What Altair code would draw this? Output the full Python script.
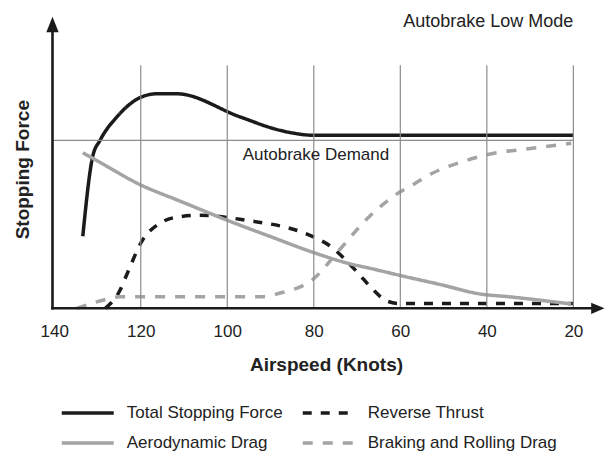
import altair as alt
import pandas as pd

# ---------------- data ----------------
series_names = ["Total Stopping Force", "Aerodynamic Drag", "Reverse Thrust", "Braking and Rolling Drag"]
series_colors = ["#1b1b1b", "#a4a4a4", "#1b1b1b", "#a4a4a4"]
series_dash = [[1, 0], [1, 0], [9, 9], [10, 10]]

total_knots = [133.4, 131.1, 129.4, 125.4, 120.0, 116.3, 111.7, 97.1, 88.7, 84.5, 80.0, 20.0]
total_force = [72, 152, 168, 192, 211, 214.5, 214.5, 191.5, 179, 175, 173, 173]

reverse_knots = [128.2, 124.8, 123.1, 119.8, 115.6, 111.0, 106.4, 99.4, 97.1, 80.2, 76.0, 73.0, 69.7, 66.6, 63.1, 60.2, 20.0]
reverse_force = [0, 18, 35, 66.6, 85, 91.6, 93, 90.5, 89, 71.6, 61.6, 50, 35, 20, 7.3, 4.8, 4.8]

aero_knots = [133.4, 127.0, 121.7, 110.0, 99.4, 90.0, 80.2, 72.6, 66.0, 60.2, 50.3, 41.5, 35.0, 29.5, 20.5]
aero_force = [155.6, 140, 127, 105.6, 87, 71.7, 56, 45.6, 39, 33, 23.3, 14.3, 11.6, 9, 4.3]

braking_knots = [134.8, 127.9, 124.8, 91.8, 88.0, 80.2, 74.1, 67.2, 60.2, 57.2, 52.6, 44.9, 40.3, 29.5, 20.5]
braking_force = [0, 9, 11.6, 11.6, 15, 29, 58.3, 91.6, 116, 123.3, 135, 147.6, 153.3, 160, 165]

tick_values = [140, 120, 100, 80, 60, 40, 20]
grid_knots = [120, 100, 80, 60, 40, 20]
grid_top = 243
demand_level = 168
x_min, x_max = 12.8, 140.4
y_max = 291.6

top_note = "Autobrake Low Mode"
demand_note = "Autobrake Demand"

# ---------------- tables ----------------
rows = []
for name, ks, fs in [
    ("Total Stopping Force", total_knots, total_force),
    ("Reverse Thrust", reverse_knots, reverse_force),
    ("Aerodynamic Drag", aero_knots, aero_force),
    ("Braking and Rolling Drag", braking_knots, braking_force),
]:
    for k, f in zip(ks, fs):
        rows.append({"series": name, "knots": k, "force": f})
df = pd.DataFrame(rows)

FONT = "Liberation Sans"
INK = "#1b1b1b"
TXT = "#222222"
GRID = "#8c8c8c"

xs = alt.Scale(domain=[x_min, x_max], reverse=True, nice=False, zero=False)
ys = alt.Scale(domain=[0, y_max], nice=False, zero=False)

AX = alt.Axis(
    values=tick_values, ticks=False, tickSize=0, domain=False, grid=False,
    labelFont=FONT, labelFontSize=17, labelColor=TXT, labelPadding=15.5,
    labelFlush=False, labelOverlap=False,
    title="Airspeed (Knots)", titleFont=FONT, titleFontSize=19, titleFontWeight="bold",
    titleColor=TXT, titleX=273.5, titleY=61.7, titleAlign="center",
    titleBaseline="alphabetic")
AY = alt.Axis(
    labels=False, ticks=False, domain=False, grid=False,
    title="Stopping Force", titleFont=FONT, titleFontSize=19, titleFontWeight="bold",
    titleColor=TXT, titleAngle=270, titleX=-30, titleY=152.5,
    titleAlign="center", titleBaseline="middle")


def X(field):
    return alt.X(field, type="quantitative", scale=xs, axis=AX)


def Y(field):
    return alt.Y(field, type="quantitative", scale=ys, axis=AY)


legend = alt.Legend(
    title=None, orient="none", legendX=7.25, legendY=382.3, columns=2,
    symbolType="stroke", symbolSize=2704, symbolStrokeWidth=3.5,
    labelFont=FONT, labelFontSize=17, labelColor=TXT, labelOffset=11,
    labelLimit=400, columnPadding=18, rowPadding=2, padding=0, clipHeight=28,
)

# vertical grid lines
grid = alt.Chart(pd.DataFrame({"knots": grid_knots, "f0": [0] * len(grid_knots),
                               "f1": [grid_top] * len(grid_knots)})).mark_rule(
    color=GRID, strokeWidth=1.2).encode(x=X("knots"), y=Y("f0"), y2="f1")

# autobrake demand line
demand = alt.Chart(pd.DataFrame({"knots": [x_max], "k1": [20], "force": [demand_level]})).mark_rule(
    color=GRID, strokeWidth=1.2).encode(x=X("knots"), x2="k1", y=Y("force"))

lines = alt.Chart(df).mark_line(strokeWidth=3.5, interpolate="monotone").encode(
    x=X("knots"),
    y=Y("force"),
    color=alt.Color("series:N", scale=alt.Scale(domain=series_names, range=series_colors),
                    legend=legend),
    strokeDash=alt.StrokeDash("series:N", scale=alt.Scale(domain=series_names, range=series_dash),
                              legend=legend),
    order=alt.Order("knots:Q", sort="descending"),
)

# axis lines
axes_df = pd.DataFrame({"knots": [x_max, x_max], "k1": [14.5, x_max], "force": [0, 0], "f1": [0, 283]})
axes = alt.Chart(axes_df).mark_rule(color=INK, strokeWidth=2.6, strokeCap="square").encode(
    x=X("knots"), x2="k1", y=Y("force"), y2="f1")

x_arrow = alt.Chart(pd.DataFrame({"knots": [x_min], "force": [0]})).mark_point(
    shape="M0,0L-2.05,-0.87L-2.05,0.87Z", size=169, filled=True, color=INK, opacity=1,
    strokeWidth=0).encode(x=X("knots"), y=Y("force"))
y_arrow = alt.Chart(pd.DataFrame({"knots": [x_max], "force": [y_max]})).mark_point(
    shape="M0,0L-0.95,2.4L0.95,2.4Z", size=169, filled=True, color=INK, opacity=1,
    strokeWidth=0).encode(x=X("knots"), y=Y("force"))

note1 = alt.Chart(pd.DataFrame({"t": [top_note], "knots": [20], "force": [281.6]})).mark_text(
    align="right", baseline="alphabetic", font=FONT, fontSize=18, color=TXT).encode(
    x=X("knots"), y=Y("force"), text="t:N")
note2 = alt.Chart(pd.DataFrame({"t": [demand_note], "knots": [79.5], "force": [148.3]})).mark_text(
    align="center", baseline="alphabetic", font=FONT, fontSize=17, color=TXT).encode(
    x=X("knots"), y=Y("force"), text="t:N")

chart = alt.layer(lines, grid, demand, axes, x_arrow, y_arrow, note1, note2).properties(
    width=552, height=291.6,
    padding={"left": 44.5, "top": 8.7, "right": 0, "bottom": 142.7},
    autosize=alt.AutoSizeParams(type="none"),
    background="white",
).configure_view(stroke=None)

chart.save("out.html", embed_options={"renderer": "svg", "actions": False})
